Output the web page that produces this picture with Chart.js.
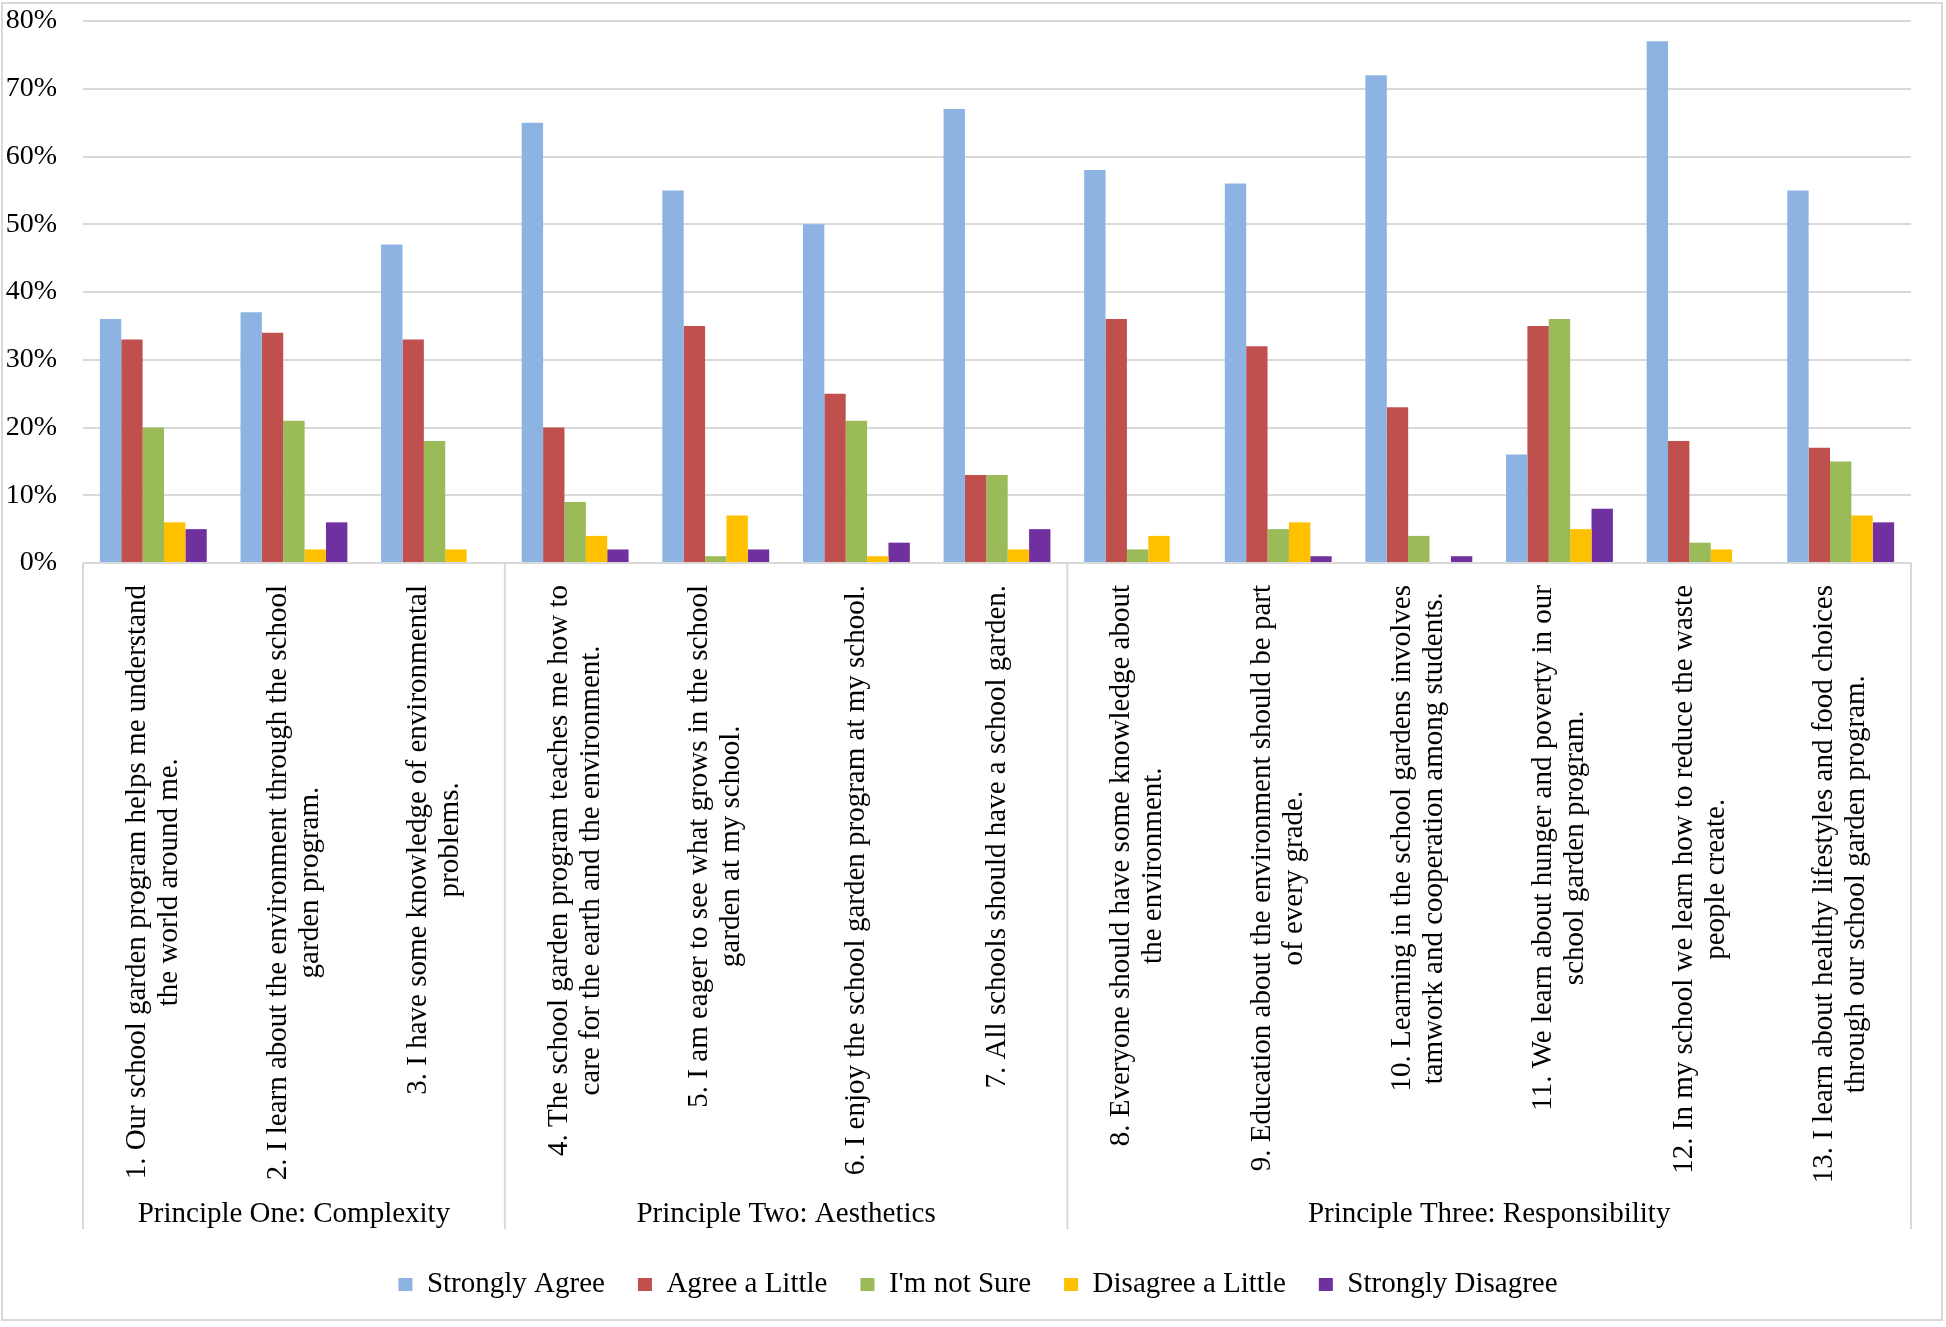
<!DOCTYPE html>
<html>
<head>
<meta charset="utf-8">
<script src="https://cdn.jsdelivr.net/npm/chart.js@4.4.1/dist/chart.umd.min.js"></script>
<style>
  body { margin: 0; background: #fff; }
  canvas { display: block; }
</style>
</head>
<body>
<canvas id="chart" width="1946" height="1327"></canvas>
<script>
// categories (each label split in lines as in the picture)
const categories = [
  ["1. Our school garden program helps me understand", "the world around me."],
  ["2. I learn about the environment through the school", "garden program."],
  ["3. I have some knowledge of environmental", "problems."],
  ["4. The school garden program teaches me how to", "care for the earth and the environment."],
  ["5. I am eager to see what grows in the school", "garden at my school."],
  ["6. I enjoy the school garden program at my school."],
  ["7. All schools should have a school garden."],
  ["8. Everyone should have some knowledge about", "the environment."],
  ["9. Education about the environment should be part", "of every grade."],
  ["10. Learning in the school gardens involves", "tamwork and cooperation among students."],
  ["11. We learn about hunger and poverty in our", "school garden program."],
  ["12. In my school we learn how to reduce the waste", "people create."],
  ["13. I learn about healthy lifestyles and food choices", "through our school garden program."]
];

const groups = ["Principle One: Complexity", "Principle Two: Aesthetics", "Principle Three: Responsibility"];
const groupSizes = [3, 4, 6];

const stronglyAgree = [36, 37, 47, 65, 55, 50, 67, 58, 56, 72, 16, 77, 55];
const agreeLittle = [33, 34, 33, 20, 35, 25, 13, 36, 32, 23, 35, 18, 17];
const notSure = [20, 21, 18, 9, 1, 21, 13, 2, 5, 4, 36, 3, 15];
const disagreeLittle = [6, 2, 2, 4, 7, 1, 2, 4, 6, 0, 5, 2, 7];
const stronglyDisagree = [5, 6, 0, 2, 2, 3, 5, 0, 1, 1, 8, 0, 6];

const yTicks = [0, 10, 20, 30, 40, 50, 60, 70, 80];

const FONT = "'Liberation Serif', 'Times New Roman', serif";
Chart.defaults.font.family = FONT;
Chart.defaults.color = "#000";

// dessine les libellés pivotés, les groupes et les séparateurs
const multiAxis = {
  id: "multiAxis",
  afterLayout(chart) {
    // légende un peu décalée à droite comme sur l'image
    chart.legend.left += 20;
    chart.legend.right += 20;
  },
  afterDraw(chart) {
    const ctx = chart.ctx;
    const x = chart.scales.x;
    const area = chart.chartArea;
    const step = (area.right - area.left) / categories.length;
    const lh = 32;
    const labelTop = area.bottom + 22;

    ctx.save();
    ctx.font = "29px " + FONT;
    ctx.fillStyle = "#000";
    ctx.textAlign = "center";
    ctx.textBaseline = "middle";
    for (let i = 0; i < categories.length; i++) {
      const lines = categories[i];
      const cx = x.getPixelForValue(i);
      let w = 0;
      for (const l of lines) w = Math.max(w, ctx.measureText(l).width);
      ctx.save();
      ctx.translate(cx, labelTop);
      ctx.rotate(-Math.PI / 2);
      for (let k = 0; k < lines.length; k++) {
        ctx.fillText(lines[k], -w / 2, (k - (lines.length - 1) / 2) * lh);
      }
      ctx.restore();
    }

    // séparateurs
    ctx.strokeStyle = "#d9d9d9";
    ctx.lineWidth = 2;
    const sepBottom = 1229;
    let start = 0;
    const edges = [0];
    for (const n of groupSizes) { start += n; edges.push(start); }
    for (const e of edges) {
      const px = area.left + e * step;
      ctx.beginPath();
      ctx.moveTo(px, area.bottom);
      ctx.lineTo(px, sepBottom);
      ctx.stroke();
    }
    for (let g = 0; g < groups.length; g++) {
      const a = area.left + edges[g] * step;
      const b = area.left + edges[g + 1] * step;
      ctx.fillText(groups[g], (a + b) / 2, 1214);
    }

    // cadre
    ctx.strokeRect(2, 3, 1940, 1317);
    ctx.restore();
  }
};

const ctx = document.getElementById("chart").getContext("2d");
new Chart(ctx, {
  type: "bar",
  data: {
    labels: categories.map((c) => c.join(" ")),
    datasets: [
      { label: "Strongly Agree", data: stronglyAgree, backgroundColor: "#8DB3E2" },
      { label: "Agree a Little", data: agreeLittle, backgroundColor: "#C0504D" },
      { label: "I'm not Sure", data: notSure, backgroundColor: "#9BBB59" },
      { label: "Disagree a Little", data: disagreeLittle, backgroundColor: "#FFC000" },
      { label: "Strongly Disagree", data: stronglyDisagree, backgroundColor: "#7030A0" },
    ],
  },
  options: {
    responsive: false,
    animation: false,
    devicePixelRatio: 1,
    layout: { padding: { left: 5, right: 35, top: 21, bottom: 18 } },
    datasets: { bar: { categoryPercentage: 0.76, barPercentage: 1, borderWidth: 0 } },
    plugins: {
      legend: {
        position: "bottom",
        labels: { boxWidth: 14, boxHeight: 13, padding: 33, font: { size: 29 } },
      },
      tooltip: { enabled: false },
    },
    scales: {
      x: {
        grid: { display: false },
        border: { display: false },
        ticks: { display: false },
        afterFit: (scale) => { scale.height = 674; },
      },
      y: {
        min: 0,
        max: 80,
        afterFit: (scale) => {
          scale.width = 78;
          scale.paddingTop = 0;
          scale.paddingBottom = 0;
        },
        afterBuildTicks: (scale) => { scale.ticks = yTicks.map((v) => ({ value: v })); },
        grid: { color: "#d9d9d9", lineWidth: 2, drawTicks: false },
        border: { display: false },
        ticks: { padding: 26, font: { size: 28 }, callback: (v) => v + "%" },
      },
    },
  },
  plugins: [multiAxis],
});
</script>
</body>
</html>
